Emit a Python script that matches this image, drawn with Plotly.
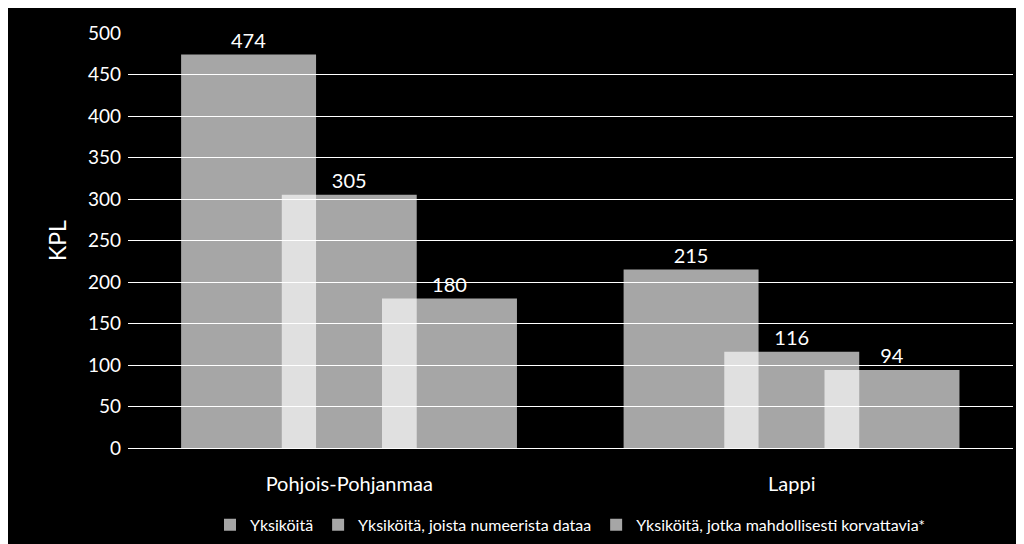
import plotly.graph_objects as go

regions = ["Pohjois-Pohjanmaa", "Lappi"]
series_names = ["Yksiköitä", "Yksiköitä, joista numeerista dataa",
                "Yksiköitä, jotka mahdollisesti korvattavia*"]
units = [474, 215]
numeric_units = [305, 116]
replaceable_units = [180, 94]
y_ticks = [0, 50, 100, 150, 200, 250, 300, 350, 400, 450, 500]

fig = go.Figure()
offsets = [-0.38, -0.1525, 0.074]
for name, vals, off in zip(series_names, [units, numeric_units, replaceable_units], offsets):
    fig.add_trace(go.Bar(
        x=regions, y=vals, name=name,
        width=0.305, offset=off,
        marker=dict(color="rgba(255,255,255,0.65)", line_width=0),
        text=vals, textposition="outside",
        textfont=dict(color="white", size=20),
        cliponaxis=False,
    ))

fig.update_layout(
    barmode="overlay",
    width=1024, height=544,
    paper_bgcolor="black", plot_bgcolor="black",
    font=dict(family="Lato, Open Sans, sans-serif", color="white", size=19),
    margin=dict(l=120, r=19, t=25, b=104, autoexpand=False),
    showlegend=True,
    legend=dict(orientation="h", x=0.5, xanchor="center", y=-0.185, yanchor="middle",
                font=dict(size=16), traceorder="normal"),
    yaxis=dict(range=[0, 500], tickvals=y_ticks, gridcolor="white", gridwidth=1,
               zeroline=False, title=dict(text="KPL", standoff=14),
               ticks="", ticklabelstandoff=6),
    xaxis=dict(showline=True, linecolor="white", ticks="", tickfont=dict(size=20),
               ticklabelstandoff=18),
)

fig.write_html("out.html")
